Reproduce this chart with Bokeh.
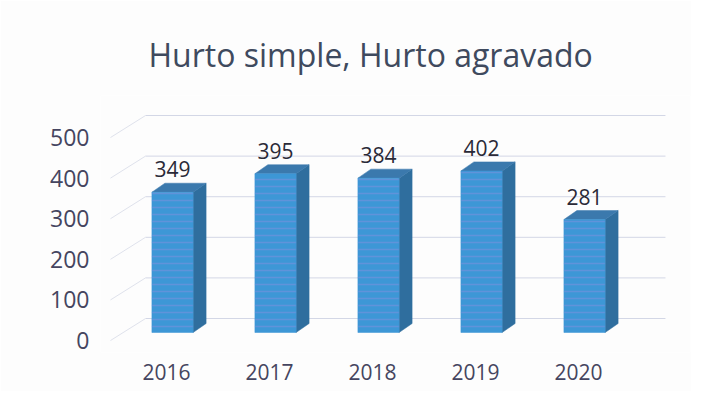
from bokeh.plotting import figure
from bokeh.models import Range1d, LinearAxis, FixedTicker
from bokeh.core.properties import value
from bokeh.embed import file_html
from bokeh.resources import INLINE

# ---- data ----
years = ["2016", "2017", "2018", "2019", "2020"]
counts = [349, 395, 384, 402, 281]
y_ticks = [0, 100, 200, 300, 400, 500]
title_text = "Hurto simple, Hurto agravado"

FONT = "Open Sans"
n = len(years)
xs = list(range(n))

# pixel geometry helpers (px per category / px per unit)
PX_CAT = 103.0
PX_UNIT = 0.402
BAR_W = 0.40
DX = 13 / PX_CAT          # 3D depth, horizontal
DY = 9 / PX_UNIT          # 3D depth, vertical
GRID_SHIFT = 22 / 0.406   # back wall vs. axis labels

X0, X1 = -0.699, 5.029
p = figure(width=691, height=391, output_backend="svg", toolbar_location=None,
           x_range=Range1d(X0, X1), y_range=Range1d(-49.75, 589.55),
           x_axis_location=None, y_axis_location=None,
           min_border_left=100, min_border_right=1, min_border_top=95, min_border_bottom=39,
           background_fill_color="#fdfdfd", border_fill_color="#fdfdfd",
           outline_line_color=None)
p.xgrid.visible = False
p.ygrid.visible = False

p.extra_y_ranges = {"ax": Range1d(-29.56, 603.4), "grid": Range1d(-83.7, 549.3)}
p.extra_x_ranges = {"lab": Range1d(X0 + 0.058, X1 + 0.058)}

# title
p.title.text = title_text
p.title.align = "left"
p.title.offset = 48
p.title.standoff = 40
p.title.text_font = FONT
p.title.text_font_size = "32px"
p.title.text_font_style = "normal"
p.title.text_color = "#3f4a5e"

# axes
yaxis = LinearAxis(y_range_name="ax", ticker=FixedTicker(ticks=y_ticks),
                   axis_line_color=None, major_tick_line_color=None,
                   minor_tick_line_color=None, major_tick_out=0, major_tick_in=0,
                   major_label_standoff=11, major_label_text_font=FONT,
                   major_label_text_font_size="23px", major_label_text_color="#454560")
p.add_layout(yaxis, "left")

xaxis = LinearAxis(x_range_name="lab", ticker=FixedTicker(ticks=xs),
                   major_label_overrides={i: y for i, y in enumerate(years)},
                   axis_line_color=None, major_tick_line_color=None,
                   minor_tick_line_color=None, major_tick_out=0, major_tick_in=0,
                   major_label_standoff=11, major_label_text_font=FONT,
                   major_label_text_font_size="21px", major_label_text_color="#454560")
p.add_layout(xaxis, "below")

# back wall gridlines (with diagonal side-wall segments)
x_wall = -0.262
x_left = -0.602
x_end = 4.786
p.segment(x0=[x_wall] * len(y_ticks), y0=y_ticks, x1=[x_end] * len(y_ticks), y1=y_ticks,
          y_range_name="grid", line_color="#d3d7e6", line_width=1)
p.segment(x0=[x_left] * len(y_ticks), y0=[v - GRID_SHIFT for v in y_ticks],
          x1=[x_wall] * len(y_ticks), y1=y_ticks,
          y_range_name="grid", line_color="#dfe2ec", line_width=1)

# 3D bars
side_x, side_y, top_x, top_y = [], [], [], []
for i, v in zip(xs, counts):
    r = i + BAR_W / 2
    l = i - BAR_W / 2
    side_x.append([r, r + DX, r + DX, r])
    side_y.append([0, DY, v + DY, v])
    top_x.append([l, l + DX, r + DX, r])
    top_y.append([v, v + DY, v + DY, v])

p.patches(side_x, side_y, fill_color="#2f6e9e", line_color="#2f6e9e", line_width=0.5)
p.patches(top_x, top_y, fill_color="#3b79ad", line_color="#3b79ad", line_width=0.5)
p.vbar(x=xs, top=counts, bottom=0, width=BAR_W, fill_color="#3d97d6",
       line_color="#3d97d6", line_width=0.5,
       hatch_pattern="-", hatch_color="#8c8fe0", hatch_alpha=0.45,
       hatch_scale=7, hatch_weight=1.5)

# data labels
p.text(x=xs, y=counts, text=[str(c) for c in counts], y_offset=-23,
       text_align="center", text_baseline="middle",
       text_font=value(FONT), text_font_size="21px", text_color="#2a2a38")

open("out.html", "w").write(file_html(p, INLINE))
